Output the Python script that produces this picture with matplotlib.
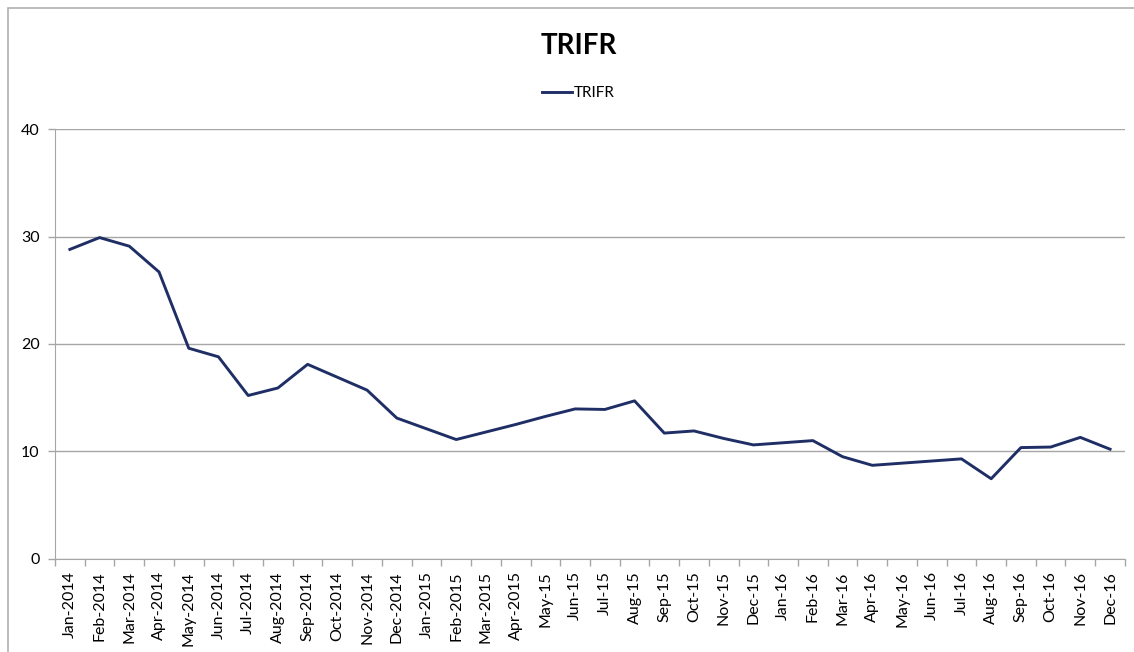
import matplotlib
matplotlib.use('Agg')
import matplotlib.pyplot as plt
from matplotlib.patches import Rectangle

plt.rcParams['font.family'] = ['Lato', 'DejaVu Sans']

# Monthly TRIFR values
months = ['Jan-2014', 'Feb-2014', 'Mar-2014', 'Apr-2014', 'May-2014', 'Jun-2014',
          'Jul-2014', 'Aug-2014', 'Sep-2014', 'Oct-2014', 'Nov-2014', 'Dec-2014',
          'Jan-2015', 'Feb-2015', 'Mar-2015', 'Apr-2015', 'May-15', 'Jun-15',
          'Jul-15', 'Aug-15', 'Sep-15', 'Oct-15', 'Nov-15', 'Dec-15',
          'Jan-16', 'Feb-16', 'Mar-16', 'Apr-16', 'May-16', 'Jun-16',
          'Jul-16', 'Aug-16', 'Sep-16', 'Oct-16', 'Nov-16', 'Dec-16']
trifr = [28.8, 29.9, 29.1, 26.7, 19.6, 18.8,
         15.2, 15.9, 18.1, 16.9, 15.7, 13.1,
         12.1, 11.1, 11.8, 12.5, 13.25, 13.95,
         13.9, 14.7, 11.7, 11.9, 11.2, 10.6,
         10.8, 11.0, 9.5, 8.7, 8.9, 9.1,
         9.3, 7.45, 10.35, 10.4, 11.3, 10.2]
y_ticks = [0, 10, 20, 30, 40]

line_color = '#1f2f66'
grid_color = '#a6a6a6'

fig = plt.figure(figsize=(11.34, 6.52), dpi=100)
ax = fig.add_axes([0.0485, 0.143, 0.9435, 0.659])

# chart frame border (Excel style), partly cropped at right/bottom
fig.patches.append(Rectangle((8 / 1134, -0.05), 1.2, 1 - 8 / 652 + 0.05,
                             transform=fig.transFigure, fill=False,
                             edgecolor='#b0b0b0', linewidth=1.2))

x = list(range(len(months)))
ax.plot(x, trifr, color=line_color, linewidth=2.1, label='TRIFR')

ax.set_xlim(-0.5, len(months) - 0.5)
ax.set_ylim(0, 40)
ax.set_yticks(y_ticks)
ax.set_xticks(x)
ax.set_xticklabels(months, rotation=90, fontsize=11.5)
ax.set_xticks([i - 0.5 for i in range(len(months) + 1)], minor=True)
ax.tick_params(axis='x', which='major', length=0, pad=9)
ax.tick_params(axis='x', which='minor', length=5, color=grid_color, width=1)
ax.tick_params(axis='y', length=5, color=grid_color, width=1, labelsize=11.5, pad=6)

ax.grid(axis='y', color=grid_color, linewidth=1)
ax.set_axisbelow(True)
for side in ['top', 'right']:
    ax.spines[side].set_visible(False)
ax.spines['left'].set_color(grid_color)
ax.spines['bottom'].set_color(grid_color)

fig.text(0.51, 0.93, 'TRIFR', ha='center', va='center', fontsize=20, fontweight='bold')
fig.legend(loc='center', bbox_to_anchor=(0.51, 0.857), frameon=False, fontsize=11,
           handlelength=2.0, handletextpad=0.1)

plt.savefig('out.png', dpi=100)
plt.close()
